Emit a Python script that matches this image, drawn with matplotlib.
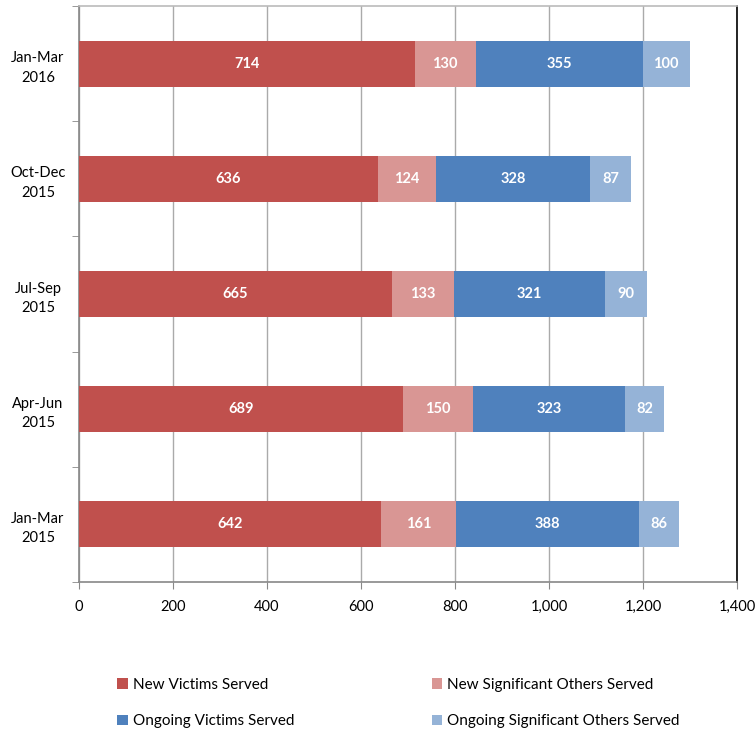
import matplotlib
matplotlib.use("Agg")
import matplotlib.pyplot as plt
from matplotlib.ticker import FuncFormatter, MultipleLocator
import numpy as np

categories = ["Jan-Mar\n2015", "Apr-Jun\n2015", "Jul-Sep\n2015", "Oct-Dec\n2015", "Jan-Mar\n2016"]
series_names = ["New Victims Served", "New Significant Others Served",
                "Ongoing Victims Served", "Ongoing Significant Others Served"]
new_victims = [642, 689, 665, 636, 714]
new_sig_others = [161, 150, 133, 124, 130]
ongoing_victims = [388, 323, 321, 328, 355]
ongoing_sig_others = [86, 82, 90, 87, 100]
colors = ["#C0504D", "#D99694", "#4F81BD", "#95B3D7"]

plt.rcParams['font.family'] = ['Lato', 'DejaVu Sans']

fig = plt.figure(figsize=(7.56, 7.34), dpi=100)
ax = fig.add_axes([79/756, 1-582/734, (737-79)/756, (582-6)/734])

y = np.arange(len(categories))
left = np.zeros(len(categories))
handles = []
for name, vals, c in zip(series_names, [new_victims, new_sig_others, ongoing_victims, ongoing_sig_others], colors):
    bars = ax.barh(y, vals, left=left, height=0.4, color=c, label=name, zorder=3)
    handles.append(bars)
    for yi, l, v in zip(y, left, vals):
        ax.text(l + v/2, yi, f"{v}", ha="center", va="center", color="white",
                fontsize=10.5, fontweight="bold", zorder=4)
    left = left + np.array(vals)

ax.set_xlim(0, 1400)
ax.set_ylim(-0.5, len(categories) - 0.5)
ax.xaxis.set_major_locator(MultipleLocator(200))
ax.xaxis.set_major_formatter(FuncFormatter(lambda v, p: f"{int(v):,}"))
ax.set_yticks(y)
ax.set_yticklabels(categories, fontsize=10.5, linespacing=1.5, ha="center")
ax.set_yticks(np.arange(-0.5, len(categories), 1), minor=True)
ax.tick_params(axis="y", which="major", length=0, pad=29.5)
ax.tick_params(axis="y", which="minor", length=5, color="#888888", direction="out")
ax.tick_params(axis="x", length=5, color="#888888", direction="out", labelsize=10.5, pad=8)
ax.grid(axis="x", color="#AAAAAA", linewidth=1, zorder=0)
for s in ["left", "bottom", "top"]:
    ax.spines[s].set_color("#888888")
    ax.spines[s].set_linewidth(1.2)
ax.spines["top"].set_color("#BBBBBB")
ax.spines["right"].set_color("black")
ax.spines["right"].set_linewidth(1.2)

fig.legend(handles=[handles[0], handles[2], handles[1], handles[3]],
           labels=[series_names[0], series_names[2], series_names[1], series_names[3]],
           ncol=2, loc="center", bbox_to_anchor=(0.527, 1-703/734), frameon=False,
           fontsize=11, handlelength=0.7, handleheight=0.7, handletextpad=0.3,
           columnspacing=9.0, labelspacing=1.5)

fig.savefig("out.png", dpi=100)
